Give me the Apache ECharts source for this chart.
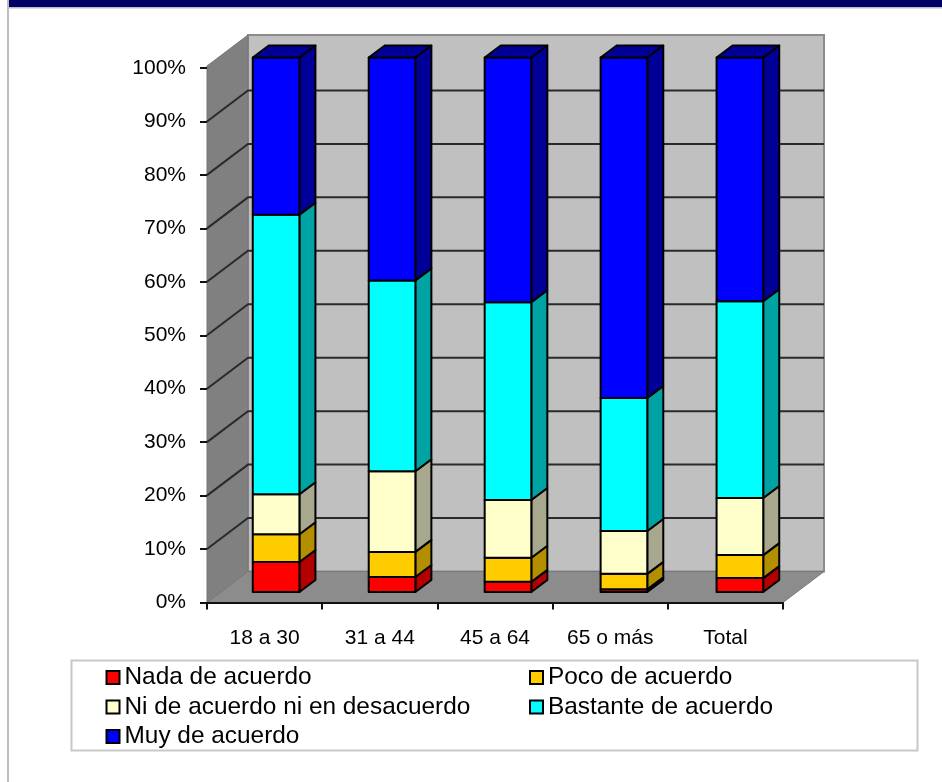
<!DOCTYPE html>
<html><head><meta charset="utf-8">
<style>html,body{margin:0;padding:0;background:#fff;width:942px;height:782px;overflow:hidden}
#c{width:942px;height:782px;filter:blur(.45px)}</style>
<script src="https://cdn.jsdelivr.net/npm/echarts@6/dist/echarts.min.js"></script>
</head><body><div id="c"></div>
<script>
const categories = ['18 a 30','31 a 44','45 a 64','65 o más','Total'];
const nada      = [5.6, 2.8, 1.9, 0.5, 2.6];
const poco      = [5.2, 4.7, 4.5, 2.9, 4.3];
const ni        = [7.5, 15.1, 10.8, 8.0, 10.7];
const bastante  = [52.3, 35.7, 37.0, 24.9, 36.8];
const muy       = [29.4, 41.7, 45.8, 63.7, 45.6];
const seriesNames = ['Nada de acuerdo','Poco de acuerdo','Ni de acuerdo ni en desacuerdo','Bastante de acuerdo','Muy de acuerdo'];
const seriesValues = [nada, poco, ni, bastante, muy];
const faceColors = ['#FF0000','#FFCC00','#FFFFCC','#00FFFF','#0000FF'];
const sideColors = ['#B30000','#B38F00','#A8A88E','#00A3A3','#000099'];
const yTicks = [0,10,20,30,40,50,60,70,80,90,100];

const WALL_DX = 41, WALL_DY = -31;
const BAR_DX = 11.5, BAR_DX_STEP = 0.75, BAR_DY = -10.5;
const SIDE_DX = 16, SIDE_DY = -12;
const BAR_RATIO = 0.405;

function renderWalls(params, api){
  const band = api.size([1,0])[0];
  const x0 = api.coord([0,0])[0]-band/2, x1 = api.coord([categories.length-1,0])[0]+band/2;
  const y0 = api.coord([0,0])[1], y1 = api.coord([0,100])[1];
  const dx = WALL_DX, dy = WALL_DY;
  const poly = (pts,fill,stroke,w)=>({type:'polygon',shape:{points:pts},style:{fill:fill,stroke:stroke||null,lineWidth:w||0}});
  const kids = [
    poly([[x0+dx,y1+dy-2],[x1+dx,y1+dy-2],[x1+dx,y0+dy],[x0+dx,y0+dy]],'#C0C0C0','#8c8c8c',2),
    poly([[x0,y0],[x0+dx,y0+dy],[x0+dx,y1+dy-2],[x0,y1-2]],'#808080','#777777',1),
    poly([[x0,y0],[x1,y0],[x1+dx,y0+dy],[x0+dx,y0+dy]],'#8C8C8C','#777777',1)
  ];
  yTicks.slice(1,-1).forEach(v=>{
    const y = api.coord([0,v])[1];
    kids.push({type:'polyline',shape:{points:[[x0,y],[x0+dx,y+dy],[x1+dx,y+dy]]},style:{fill:null,stroke:'#2a2a2a',lineWidth:2}});
  });
  return {type:'group',children:kids};
}

function makeRender(si){
  return function(params, api){
    const i = api.value(0), lo = api.value(1), hi = api.value(2);
    const band = api.size([1,0])[0];
    const w = band*BAR_RATIO;
    const cx = api.coord([i,0])[0] + BAR_DX + BAR_DX_STEP*i;
    const xl = cx-w/2, xr = cx+w/2;
    const yb = api.coord([i,lo])[1]+BAR_DY, yt = api.coord([i,hi])[1]+BAR_DY;
    const st = {stroke:'#000',lineWidth:2,lineJoin:'round'};
    const kids = [
      {type:'polygon',shape:{points:[[xr,yb],[xr+SIDE_DX,yb+SIDE_DY],[xr+SIDE_DX,yt+SIDE_DY],[xr,yt]]},style:{fill:sideColors[si],...st}},
      {type:'polygon',shape:{points:[[xl,yb],[xr,yb],[xr,yt],[xl,yt]]},style:{fill:faceColors[si],...st}}
    ];
    if(si===seriesValues.length-1){
      kids.push({type:'polygon',shape:{points:[[xl,yt],[xr,yt],[xr+SIDE_DX,yt+SIDE_DY],[xl+SIDE_DX,yt+SIDE_DY]]},style:{fill:sideColors[si],...st}});
    }
    return {type:'group',children:kids};
  };
}

const barSeries = seriesNames.map((name,si)=>({
  name, type:'custom', z:5+si, clip:false,
  coordinateSystem:'cartesian2d',
  itemStyle:{color:faceColors[si],borderColor:'#000',borderWidth:2},
  renderItem:makeRender(si),
  encode:{x:0,y:[1,2]},
  data:categories.map((c,i)=>{
    let lo=0; for(let k=0;k<si;k++) lo+=seriesValues[k][i];
    return [i,lo,lo+seriesValues[si][i]];
  })
}));

const legendBase = {
  orient:'vertical', itemWidth:13, itemHeight:13, itemGap:5.5, icon:'rect',
  textStyle:{fontFamily:'Liberation Sans',fontSize:24.4,lineHeight:24,color:'#000'},
  itemStyle:{borderColor:'#000',borderWidth:2}
};

const chart = echarts.init(document.getElementById('c'),null,{renderer:'canvas'});
chart.setOption({
  animation:false, backgroundColor:'#fff',
  grid:{left:207,right:159,top:68,bottom:179.5},
  xAxis:{type:'category',data:categories,
    axisLine:{lineStyle:{color:'#111',width:2}},
    axisTick:{show:true,length:7,alignWithLabel:false,lineStyle:{color:'#111',width:2}},
    axisLabel:{margin:25,fontFamily:'Liberation Sans',fontSize:21,color:'#000',interval:0},
    z:4},
  yAxis:{type:'value',min:0,max:100,interval:10,
    axisLine:{show:false},
    axisTick:{show:true,length:7,lineStyle:{color:'#111',width:2}},
    axisLabel:{margin:21,fontFamily:'Liberation Sans',fontSize:21,color:'#000',formatter:'{value}%'},
    splitLine:{show:false},z:4},
  legend:[
    {...legendBase,left:100.5,top:660.5,data:[seriesNames[0],seriesNames[2],seriesNames[4]]},
    {...legendBase,left:524,top:660.5,data:[seriesNames[1],seriesNames[3]]}
  ],
  graphic:[
    {type:'rect',shape:{x:0,y:0,width:942,height:7},style:{fill:'#000066'},z:10},
    {type:'rect',shape:{x:0,y:7,width:942,height:1.5},style:{fill:'#BDBDBD'},z:10},
    {type:'rect',shape:{x:7,y:0,width:2,height:782},style:{fill:'#BDBDBD'},z:11},
    {type:'rect',shape:{x:0,y:0,width:7,height:782},style:{fill:'#fff'},z:11},
    {type:'rect',shape:{x:71.5,y:660.5,width:846,height:90},style:{fill:'#fff',stroke:'#C8C8C8',lineWidth:2},z:-1}
  ],
  series:[
    {type:'custom',silent:true,z:1,clip:false,renderItem:renderWalls,data:[[0,0]],encode:{x:0,y:1}},
    ...barSeries
  ]
});
</script></body></html>
